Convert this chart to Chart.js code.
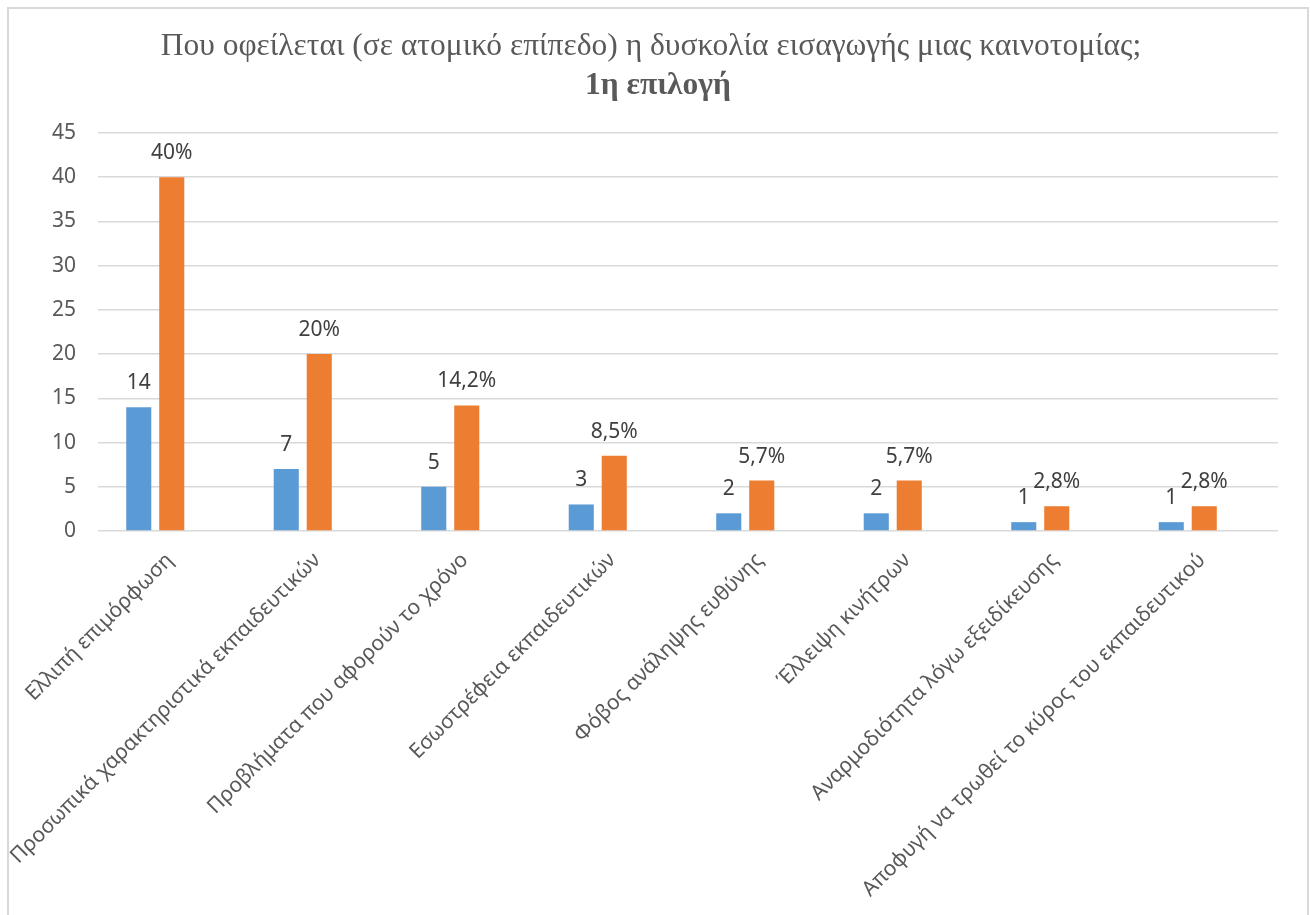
<!DOCTYPE html>
<html>
<head>
<meta charset="utf-8">
<script src="https://cdn.jsdelivr.net/npm/chart.js@4.4.0/dist/chart.umd.min.js"></script>
<style>
    body { margin: 0; background: #fff; }
    #wrap { width: 1310px; height: 915px; position: relative; }
</style>
</head>
<body>
<div id="wrap"><canvas id="difficulty-chart" width="1310" height="915"></canvas></div>
<script>
const categories = [
    "Ελλιπή επιμόρφωση",
    "Προσωπικά χαρακτηριστικά εκπαιδευτικών",
    "Προβλήματα που αφορούν το χρόνο",
    "Εσωστρέφεια εκπαιδευτικών",
    "Φόβος ανάληψης ευθύνης",
    "Έλλειψη κινήτρων",
    "Αναρμοδιότητα λόγω εξειδίκευσης",
    "Αποφυγή να τρωθεί το κύρος του εκπαιδευτικού"
]
const counts = [14, 7, 5, 3, 2, 2, 1, 1]
const percents = [40, 20, 14.2, 8.5, 5.7, 5.7, 2.8, 2.8]
// Excel keeps a third, empty series, which pushes the two bars to the left
const emptySeries = [null, null, null, null, null, null, null, null]
const yTicks = [0, 5, 10, 15, 20, 25, 30, 35, 40, 45]

const titleLine1 = "Που οφείλεται (σε ατομικό επίπεδο) η δυσκολία εισαγωγής μιας καινοτομίας;"
const titleLine2 = "1η επιλογή"

document.addEventListener('DOMContentLoaded', function () {
    const ctx = document.getElementById('difficulty-chart').getContext('2d')

    const frameAndTitle = {
        id: 'frameAndTitle',
        beforeDraw(chart) {
            const c = chart.ctx
            c.save()
            c.fillStyle = '#ffffff'
            c.fillRect(0, 0, chart.width, chart.height)
            c.strokeStyle = '#d9d9d9'
            c.lineWidth = 2
            c.strokeRect(8, 8, 1300, 930)
            c.restore()
        },
        afterDraw(chart) {
            const c = chart.ctx
            c.save()
            c.fillStyle = '#595959'
            c.textAlign = 'center'
            c.textBaseline = 'middle'
            c.font = '31.5px "Liberation Serif"'
            c.fillText(titleLine1, 651, 47)
            c.font = 'bold 31.5px "Liberation Serif"'
            c.fillText(titleLine2, 658, 86)
            c.restore()
        }
    }

    const valueLabels = {
        id: 'valueLabels',
        afterDatasetsDraw(chart) {
            const c = chart.ctx
            c.save()
            c.fillStyle = '#404040'
            c.font = '21px "Noto Sans"'
            c.textAlign = 'center'
            c.textBaseline = 'middle'
            chart.data.datasets.forEach((ds, i) => {
                if (!ds.labelFormat) return
                const meta = chart.getDatasetMeta(i)
                meta.data.forEach((bar, j) => {
                    const v = ds.data[j]
                    if (v === null) return
                    c.fillText(ds.labelFormat(v), bar.x, bar.y - 24)
                })
            })
            c.restore()
        }
    }

    const chart = new Chart(ctx, {
        type: 'bar',
        data: {
            labels: categories,
            datasets: [{
                label: 'Πλήθος',
                data: counts,
                backgroundColor: '#5B9BD5',
                labelFormat: v => String(v)
            }, {
                label: 'Ποσοστό',
                data: percents,
                backgroundColor: '#ED7D31',
                labelFormat: v => String(v).replace('.', ',') + '%'
            }, {
                label: '',
                data: emptySeries,
                backgroundColor: 'rgba(0,0,0,0)'
            }]
        },
        options: {
            responsive: false,
            animation: false,
            devicePixelRatio: 1,
            categoryPercentage: 0.671,
            barPercentage: 0.76,
            layout: {
                padding: { top: 133, left: 0, right: 32, bottom: 0 }
            },
            plugins: {
                legend: { display: false },
                title: { display: false },
                tooltip: { enabled: false }
            },
            scales: {
                x: {
                    grid: { display: false },
                    border: { display: false },
                    ticks: {
                        color: '#595959',
                        font: { family: 'Noto Sans', size: 21 },
                        minRotation: 45,
                        maxRotation: 45,
                        padding: 9,
                        labelOffset: -2,
                        autoSkip: false
                    },
                    afterFit: scale => { scale.height = 915 - 531 }
                },
                y: {
                    min: 0,
                    max: 45,
                    afterBuildTicks: scale => { scale.ticks = yTicks.map(v => ({ value: v })) },
                    grid: { color: '#d9d9d9', lineWidth: 1.5, drawTicks: false },
                    border: { display: false },
                    ticks: {
                        color: '#595959',
                        font: { family: 'Noto Sans', size: 21 },
                        padding: 22
                    },
                    afterFit: scale => { scale.width = 98 }
                }
            }
        },
        plugins: [frameAndTitle, valueLabels]
    })
})
</script>
</body>
</html>
